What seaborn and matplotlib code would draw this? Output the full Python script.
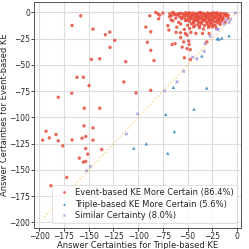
import numpy as np
import pandas as pd
import matplotlib
matplotlib.use("Agg")
import matplotlib.pyplot as plt
import seaborn as sns

# Event-based KE more certain (y > x)
event_x = [
    # left, sparse
    -158.1, -166.9, -145.7, -133.2, -128.8, -123.7, -128.5, -147.4, -138.9, -112.6,
    -161.9, -155.5, -149.7, -167.2, -180.8, -154.5, -138.9, -114.6, -102.2, -154.8,
    -145.7, -193.2, -196.6, -189.9, -183.1, -180.8, -176.3, -166.9, -156.8, -153.1,
    -145.7, -153.1, -136.9, -151.0, -159.5, -155.5, -153.1, -172.3, -188.2,
    # middle, sparse
    -88.3, -92.3, -87.3, -90.7, -87.3, -84.0, -87.3, -82.3, -80.0, -78.3,
    -75.0, -79.3, -65.0, -68.3, -66.7, -70.0, -69.0, -61.7, -65.7, -62.7,
    -57.3, -53.3, -52.3, -50.7, -46.7, -54.0, -49.0, -50.7, -47.3, -53.3,
    -47.3, -41.7, -35.0, -30.7, -28.3, -55.5, -48.5, -57.0,
    # dense cluster near the top
    -68, -64, -60, -57, -55, -52, -50, -48, -46, -44, -42, -40, -38, -36, -34, -32, -30,
    -28, -26, -24, -22, -20, -18, -16, -13,
    -66, -61, -58, -54, -51, -49, -47, -45, -43, -41, -39, -37, -35, -33, -31, -29, -27,
    -25, -23, -21, -19, -17, -15, -11,
    -62, -56, -53, -50, -47, -45, -42, -40, -38, -36, -34, -32, -30, -28, -26, -24, -22,
    -20, -18, -14, -9,
    -65, -59, -52, -48, -44, -41, -39, -37, -35, -33, -31, -29, -27, -25, -23, -21, -19,
    -16, -12,
    -57, -50, -46, -43, -40, -36, -33, -30, -28, -26, -24, -22, -17,
    -61, -48, -44, -38, -34, -29, -25, -21,
    -11, -9, -13, -15, -17, -19,
    -63, -59, -53, -49, -45, -41, -37, -33, -29, -25, -21, -17,
    -56, -51, -47, -43, -39, -35, -31, -27, -23, -19, -44, -38,
]
event_y = [
    -3.2, -12.4, -15.9, -21.2, -18.7, -26.6, -33.3, -44.7, -44.1, -46.9,
    -61.8, -61.8, -69.7, -77.0, -80.8, -91.3, -91.3, -66.2, -76.7, -108.1,
    -110.0, -113.2, -121.7, -119.5, -116.3, -122.3, -127.1, -121.4, -119.8, -118.2,
    -121.7, -129.7, -130.6, -135.0, -138.8, -142.6, -142.0, -157.2, -165.1,
    -3.2, -13.9, -18.4, -28.4, -36.1, -45.8, -74.2, 0.0, -1.3, -2.6,
    -0.6, -6.1, 0.0, -3.9, -7.1, -12.6, -16.8, -19.0, -30.6, -29.7,
    -19.4, -16.1, -20.0, -21.6, -19.0, -28.1, -27.1, -34.5, -35.5, -43.2,
    -44.8, -20.0, -20.0, -28.1, -20.0, -33.0, -30.5, -24.0,
    -1, -0.5, -1.5, -0.8, -1.2, -0.3, -1.8, -0.6, -1.1, -0.4, -1.6, -0.9, -0.2, -1.3, -0.7,
    -1.9, -0.5, -1.4, -0.8, -0.3, -1.2, -0.6, -1.5, -0.9, -1.1,
    -3, -2.5, -4, -3.2, -2.8, -4.3, -3.5, -2.6, -4.1, -3, -3.8, -2.7, -4.4, -3.3, -2.9,
    -4, -3.6, -2.5, -4.2, -3.1, -3.7, -2.8, -4.5, -3.4,
    -5.5, -6, -5.2, -6.8, -5.8, -6.3, -5.1, -6.6, -5.9, -5.4, -6.9, -6.1, -5.3, -6.5,
    -5.7, -6.2, -5, -6.7, -5.6, -6, -5.2,
    -8, -9.5, -7.8, -8.6, -9.2, -7.6, -8.9, -9.8, -8.2, -7.7, -9.4, -8.4, -9.9, -8,
    -8.8, -9.1, -7.9, -8.5, -9.3,
    -11, -12.2, -10.8, -12.8, -11.5, -10.6, -12.4, -11.2, -12.9, -10.9, -11.8, -12.5, -11.3,
    -14, -15.2, -13.8, -14.6, -15.8, -14.2, -13.7, -15,
    -1.5, -2.5, -3, -7, -5, -10,
    -2, -1.2, -2.2, -0.4, -2.4, -1.7, -0.1, -2.1, -1, -2.3, -0.5, -1.8,
    -4.8, -7.2, -4.6, -7.4, -4.9, -7.1, -4.7, -7.3, -4.8, -7, -10, -13,
]

# Triple-based KE more certain (x > y)
triple_x = [-35.7, -64.4, -30.7, -43.5, -72.2, -63.4, -91.8, -70.1, -15.5, -18.5,
            -8.1, -104.5, -53.6, -20.0]
triple_y = [-41.5, -71.3, -72.0, -92.2, -97.0, -113.5, -125.2, -134.1, -24.4, -25.4,
            -22.2, -129.3, -166.7, -25.0]

# similar certainty
similar_x = [-1.7, -6.5, -8.0, -10.7, -13.0, -19.0, -20.5, -27.3, -32.3, -33.3,
             -40.7, -45.0, -54.0, -60.7, -73.3, -100.5, -112.0, -148.4, -152.1, -157.0]
similar_y = [-0.6, -6.5, -9.5, -7.1, -11.0, -16.1, -16.2, -22.6, -29.7, -37.1,
             -44.2, -42.6, -56.1, -66.1, -74.8, -96.7, -115.7, -146.7, -150.9, -187.0]

labels = ["Event-based KE More Certain (86.4%)",
          "Triple-based KE More Certain (5.6%)",
          "Similar Certainty (8.0%)"]

df = pd.DataFrame({
    "triple": event_x + triple_x + similar_x,
    "event": event_y + triple_y + similar_y,
    "group": [labels[0]] * len(event_x) + [labels[1]] * len(triple_x) + [labels[2]] * len(similar_x),
})

sns.set_theme(style="ticks")
plt.rcParams["font.family"] = ["DejaVu Sans"]

fig, ax = plt.subplots(figsize=(2.49, 2.49), dpi=100)
fig.subplots_adjust(left=0.138, right=0.968, top=0.99, bottom=0.086)

palette = {labels[0]: "#e74c3c", labels[1]: "#2e86c1", labels[2]: "#9b8fe6"}
markers = {labels[0]: "o", labels[1]: "^", labels[2]: "X"}

ax.grid(True, color="#dddddd", linewidth=0.8)
ax.set_axisbelow(True)

ax.plot([-195, 0], [-195, 0], linestyle=":", color="orange", alpha=0.5, linewidth=1)

sns.scatterplot(data=df, x="triple", y="event", hue="group", style="group",
                palette=palette, markers=markers, s=6, linewidth=0, alpha=0.85, ax=ax)

ax.set_xlim(-205, 4)
ax.set_ylim(-205, 9.5)
ax.set_xticks([-200, -175, -150, -125, -100, -75, -50, -25, 0])
ax.set_yticks([0, -25, -50, -75, -100, -125, -150, -175, -200])
ax.tick_params(labelsize=5.5, length=2, width=0.6, pad=1)
ax.set_xlabel("Answer Certainties for Triple-based KE", fontsize=6, labelpad=0.5)
ax.set_ylabel("Answer Certainties for Event-based KE", fontsize=6, labelpad=0.5)
for s in ax.spines.values():
    s.set_color("#555555")
    s.set_linewidth(0.7)

leg = ax.legend(loc="lower right", fontsize=6, frameon=True, markerscale=0.8,
                handletextpad=0.3, borderpad=0.4, labelspacing=0.3)
leg.get_frame().set_linewidth(0.5)

fig.savefig("out.png", dpi=100)
